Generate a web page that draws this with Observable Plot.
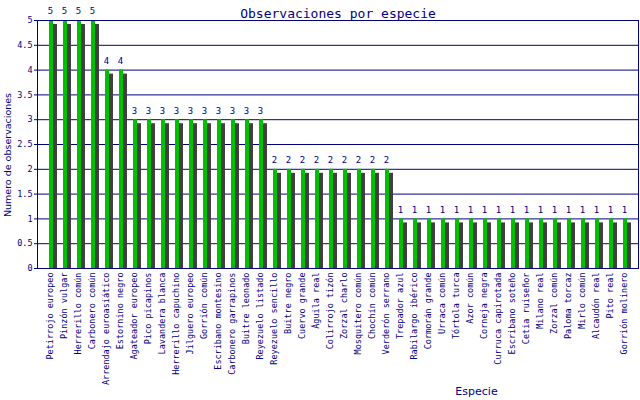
<!DOCTYPE html>
<html><head><meta charset="utf-8">
<script src="https://cdn.jsdelivr.net/npm/d3@7"></script>
<script src="https://cdn.jsdelivr.net/npm/@observablehq/plot@0.6"></script>
<style>body{margin:0;background:#fff} svg{display:block}</style>
</head><body><div id="chart"></div>
<script>
const species = [
  "Petirrojo europeo","Pinzón vulgar","Herrerillo común","Carbonero común",
  "Arrendajo euroasiático","Estornino negro","Agateador europeo","Pico picapinos",
  "Lavandera blanca","Herrerillo capuchino","Jilguero europeo","Gorrión común",
  "Escribano montesino","Carbonero garrapinos","Buitre leonado","Reyezuelo listado",
  "Reyezuelo sencillo","Buitre negro","Cuervo grande","Águila real","Colirrojo tizón",
  "Zorzal charlo","Mosquitero común","Chochín común","Verderón serrano","Trepador azul",
  "Rabilargo ibérico","Cormorán grande","Urraca común","Tórtola turca","Azor común",
  "Corneja negra","Curruca capirotada","Escribano soteño","Cetia ruiseñor","Milano real",
  "Zorzal común","Paloma torcaz","Mirlo común","Alcaudón real","Pito real","Gorrión molinero"
];
const counts = [5,5,5,5,4,4,3,3,3,3,3,3,3,3,3,3,2,2,2,2,2,2,2,2,2,1,1,1,1,1,1,1,1,1,1,1,1,1,1,1,1,1];
const yTicks = [0,0.5,1,1.5,2,2.5,3,3.5,4,4.5,5];
const titleText = "Observaciones por especie";
const xTitle = "Especie";
const yTitle = "Numero de observaciones";

const data = species.map((s, i) => ({species: s, count: counts[i]}));
const navy = "#000080";
const green = "#00c000";
const shadow = "#404040";

const chart = Plot.plot({
  width: 640, height: 400,
  marginLeft: 37, marginRight: 2, marginTop: 20, marginBottom: 132,
  style: {background: "#fff", color: navy, fontFamily: "DejaVu Sans Mono", fontSize: "8.5px"},
  x: {type: "band", domain: species, range: [43, 631], padding: 0,
      tickRotate: -90, tickSize: 0, tickPadding: 4, label: null},
  y: {domain: [0, 5], ticks: yTicks, tickSize: 3, tickPadding: 2,
      tickFormat: d => String(d), label: null},
  marks: [
    Plot.ruleY(yTicks, {stroke: navy, strokeOpacity: 1}),
    Plot.barY(data, {x: "species", y: "count", fill: shadow, insetLeft: 10, insetRight: 0, insetTop: 4}),
    Plot.barY(data, {x: "species", y: "count", fill: green, insetLeft: 6, insetRight: 4}),
    Plot.frame({stroke: navy}),
    Plot.text(data, {x: "species", y: "count", text: d => String(d.count), dx: 0, dy: -9,
      fill: navy, fontSize: 9, fontFamily: "DejaVu Sans Mono"}),
    Plot.text([titleText], {frameAnchor: "top", dy: -11.5, fill: navy, fontSize: 13,
      fontFamily: "DejaVu Sans Mono"}),
    Plot.text([xTitle], {frameAnchor: "bottom", dx: 138.5, dy: 126, fill: navy, fontSize: 11,
      fontFamily: "DejaVu Sans"}),
    Plot.text([yTitle], {frameAnchor: "left", textAnchor: "middle", rotate: -90, dx: -30, dy: 10.5,
      fill: navy, fontSize: 9.5, fontFamily: "DejaVu Sans"})
  ]
});
document.getElementById("chart").appendChild(chart);
</script>
</body></html>
